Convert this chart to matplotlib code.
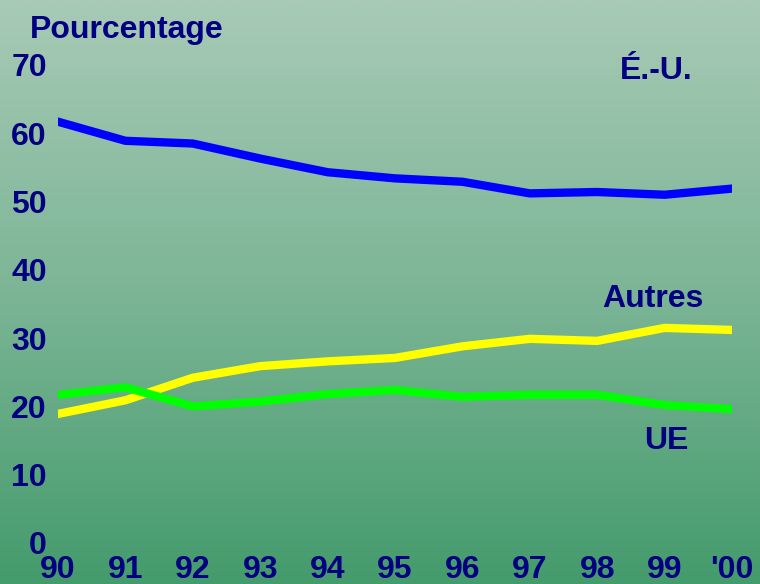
import matplotlib
matplotlib.use('Agg')
import matplotlib.pyplot as plt
import numpy as np
from matplotlib.colors import LinearSegmentedColormap

# Data
years = ['90', '91', '92', '93', '94', '95', '96', '97', '98', '99', "'00"]
eu_us = [61.7, 58.9, 58.5, 56.3, 54.3, 53.4, 52.9, 51.2, 51.4, 51.0, 51.9]
autres = [18.9, 20.9, 24.2, 25.9, 26.6, 27.1, 28.8, 29.9, 29.6, 31.5, 31.2]
ue = [21.7, 22.8, 20.0, 20.7, 21.8, 22.4, 21.4, 21.7, 21.7, 20.2, 19.6]
yticks = [0, 10, 20, 30, 40, 50, 60, 70]

navy = '#000080'
fs = 23
plt.rcParams['font.family'] = ['Liberation Sans', 'DejaVu Sans']

W, H = 760, 584
fig = plt.figure(figsize=(W / 100, H / 100), dpi=100)

# Gradient background
bg = fig.add_axes([0, 0, 1, 1])
cmap = LinearSegmentedColormap.from_list('bg', ['#a8cab6', '#7cb596', '#449b6c'])
bg.imshow(np.linspace(0, 1, 256).reshape(-1, 1), aspect='auto', cmap=cmap,
          extent=[0, 1, 0, 1])
bg.set_axis_off()

# Main plot
ax = fig.add_axes([58 / W, (H - 543) / H, 674 / W, 478 / H])
ax.set_facecolor('none')
x = np.arange(len(years))
ax.plot(x, eu_us, color='#0000ff', lw=6, solid_joinstyle='round')
ax.plot(x, autres, color='#ffff00', lw=6, solid_joinstyle='round')
ax.plot(x, ue, color='#00ff00', lw=6, solid_joinstyle='round')

ax.set_xlim(0, len(years) - 1)
ax.set_ylim(0, 70)
ax.set_xticks(x)
ax.set_xticklabels(years)
ax.set_yticks(yticks)
for s in ax.spines.values():
    s.set_visible(False)
ax.tick_params(length=0, labelsize=fs, labelcolor=navy)
ax.tick_params(axis='y', pad=8)
ax.tick_params(axis='x', pad=9)
for lbl in ax.get_xticklabels() + ax.get_yticklabels():
    lbl.set_fontweight('bold')

# Labels
fig.text(30 / W, 1 - 30 / H, 'Pourcentage', color=navy, fontsize=fs,
         fontweight='bold', ha='left', va='center')
fig.text(656 / W, 1 - 71 / H, 'É.-U.', color=navy, fontsize=fs,
         fontweight='bold', ha='center', va='center')
fig.text(653 / W, 1 - 299 / H, 'Autres', color=navy, fontsize=fs,
         fontweight='bold', ha='center', va='center')
fig.text(666 / W, 1 - 441 / H, 'UE', color=navy, fontsize=fs,
         fontweight='bold', ha='center', va='center')

fig.savefig('out.png', dpi=100)
